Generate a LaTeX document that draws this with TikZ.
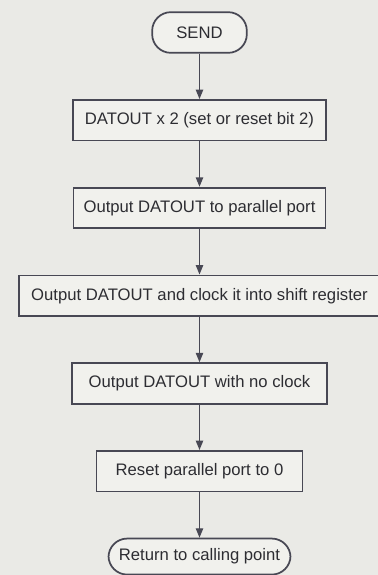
\documentclass[tikz,border=0pt]{standalone}
\usepackage{fontspec}
\setmainfont{Liberation Sans}
\usetikzlibrary{positioning, arrows.meta}
\definecolor{linegray}{RGB}{72,72,84}
\definecolor{textgray}{RGB}{45,45,50}
\definecolor{paper}{RGB}{234,234,230}
\definecolor{boxfill}{RGB}{241,241,237}

\begin{document}
\begin{tikzpicture}[
        x=0.75pt, y=-0.75pt,
        node distance=34pt,
        procbox/.style={rectangle, draw=linegray, line width=1.3pt, fill=boxfill,
          text=textgray, align=center, font=\fontsize{12.5}{15}\selectfont,
          minimum height=30.5pt, inner sep=1mm},
        termbox/.style={procbox, rounded corners=14pt},
        arrow/.style={-{Triangle[length=7pt,width=5.5pt]}, line width=0.9pt, draw=linegray}
      ]
        \fill[paper] (0,0) rectangle (378,575);
        \useasboundingbox (0,0) rectangle (378,575);

        \node[termbox, minimum width=71pt] (send) at (199.5,32.5) {SEND};
        \node[procbox, minimum width=190pt, below=of send] (dat2) {DATOUT x 2 (set or reset bit 2)};
        \node[procbox, minimum width=189pt, below=of dat2] (outport) {Output DATOUT to parallel port};
        \node[procbox, minimum width=271pt, below=of outport] (clockin) {Output DATOUT and clock it into shift register};
        \node[procbox, minimum width=191pt, below=of clockin] (noclock) {Output DATOUT with no clock};
        \node[procbox, minimum width=154.5pt, below=of noclock] (reset) {Reset parallel port to 0};
        \node[termbox, minimum width=136.5pt, minimum height=27pt, below=of reset] (ret) {Return to calling point};

        \draw[arrow] (send) -- (dat2);
        \draw[arrow] (dat2) -- (outport);
        \draw[arrow] (outport) -- (clockin);
        \draw[arrow] (clockin) -- (noclock);
        \draw[arrow] (noclock) -- (reset);
        \draw[arrow] (reset) -- (ret);
      \end{tikzpicture}
\end{document}
